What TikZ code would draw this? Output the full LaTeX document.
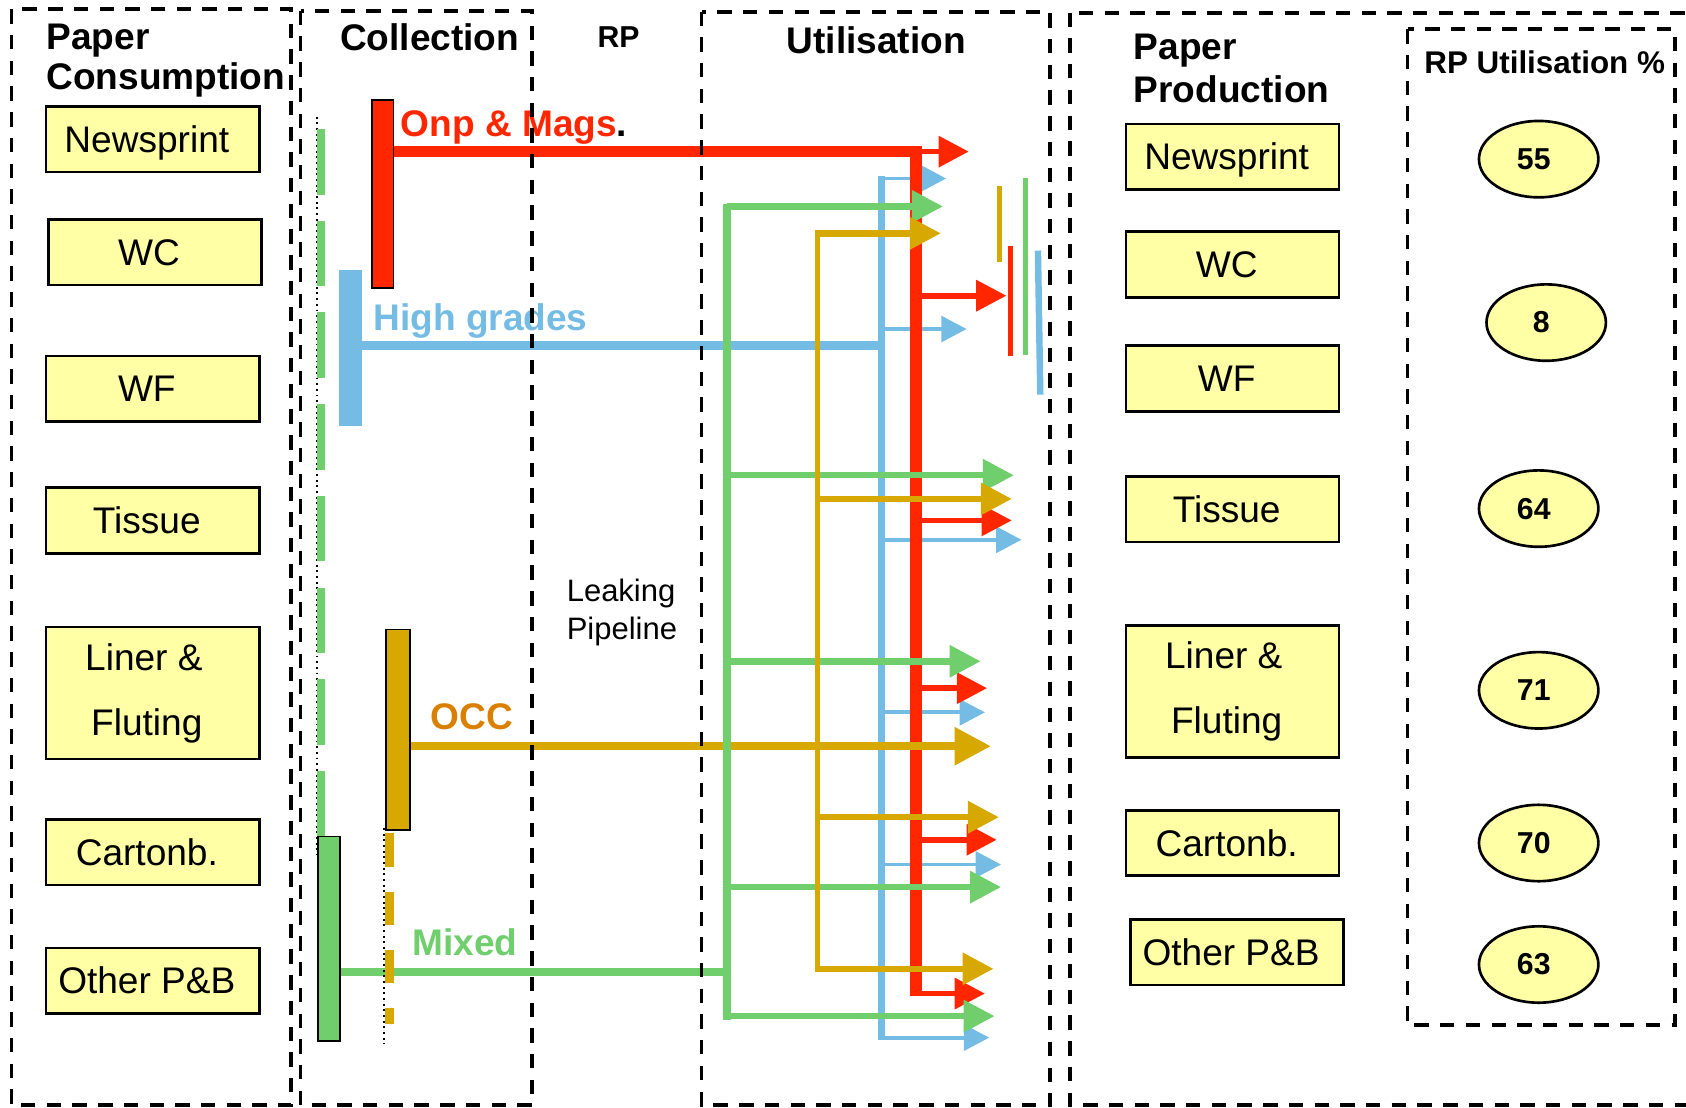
\documentclass[tikz,border=0pt]{standalone}
\usepackage{fontspec}
\setmainfont{Liberation Sans}
\usepackage{tikz}
\usetikzlibrary{arrows.meta, positioning, shapes.geometric}

\definecolor{onpred}{RGB}{255,38,0}
\definecolor{hgblue}{RGB}{116,188,228}
\definecolor{mixgreen}{RGB}{112,207,108}
\definecolor{occgold}{RGB}{214,168,0}
\definecolor{occtext}{RGB}{218,128,0}
\definecolor{boxyellow}{RGB}{255,255,166}

\begin{document}
\begin{tikzpicture}[x=0.01cm, y=-0.01cm,
	frame/.style={line width=1pt, dash pattern=on 3.8pt off 3pt},
	grade/.style={draw, line width=0.7pt, fill=boxyellow, minimum width=1.98cm, minimum height=0.61cm, inner sep=0pt, font=\fontsize{9.8}{11}\selectfont, text height=7pt, text depth=0pt, execute at end node={\hspace*{3.1pt}}},
	twoline/.style={text height={}, text depth={}, minimum height=1.23cm, align=center, font=\fontsize{9.8}{17.2}\selectfont},
	share/.style={ellipse, draw, line width=0.7pt, fill=boxyellow, minimum width=1.11cm, minimum height=0.71cm, inner sep=0pt, font=\fontsize{8}{9.6}\selectfont\bfseries, execute at end node={\hspace*{2.6pt}}},
	heading/.style={inner sep=0pt, anchor=base west, align=left, font=\fontsize{9.8}{10.4}\selectfont\bfseries},
	flowname/.style={inner sep=0pt, anchor=base west, font=\fontsize{9.8}{11}\selectfont\bfseries},
	bale/.style={inner sep=0pt, minimum width=0.2cm},
	leak/.style={line width=0.4pt, dash pattern=on 0.5pt off 1pt},
	onpflow/.style={onpred, line width=1.5pt, -{Triangle[length=8pt, width=8pt]}},
	hgflow/.style={hgblue, line width=1pt, -{Triangle[length=6.7pt, width=6.8pt]}},
	mixflow/.style={mixgreen, line width=1.7pt, -{Triangle[length=8.2pt, width=8.2pt]}},
	occflow/.style={occgold, line width=1.7pt, -{Triangle[length=8.2pt, width=8.2pt]}},
	stub/.style={line width=1.4pt}]
	\useasboundingbox (0,0) rectangle (1568,1030);

	% headings
	\node[heading] (pcon) at (42.5,83) {Paper\\Consumption};
	\node[heading] (coll) at (315.5,46.5) {Collection};
	\node[heading, font=\fontsize{8}{9.6}\selectfont\bfseries] (rp) at (555,44) {RP};
	\node[heading] (util) at (731,49.6) {Utilisation};
	\node[heading, font=\fontsize{9.8}{11.4}\selectfont\bfseries] (pprod) at (1053.7,95.5) {Paper\\Production};
	\node[heading, font=\fontsize{8.3}{10}\selectfont\bfseries] (rputil) at (1324,68.8) {RP Utilisation \%};
	\node[heading, font=\fontsize{8.2}{10.1}\selectfont] (leaking) at (526.4,595) {Leaking\\Pipeline};

	% paper consumption
	\node[grade] (cnews) at (142,129.5) {Newsprint};
	\node[grade] (cwc) at (144,234.5) {WC};
	\node[grade] (cwf) at (142,361.5) {WF};
	\node[grade] (ctissue) at (142,484) {Tissue};
	\node[grade, twoline] (cliner) at (142,644.5) {Liner \&\hspace*{1.55pt}\\Fluting};
	\node[grade] (ccarton) at (142,792.5) {Cartonb.};
	\node[grade] (cother) at (142,912) {Other P\&B};

	% paper production
	\node[grade] (pnews) at (1146.3,145.7) {Newsprint};
	\node[grade] (pwc) at (1146.3,246) {WC};
	\node[grade] (pwf) at (1146.3,352) {WF};
	\node[grade] (ptissue) at (1146.3,473.5) {Tissue};
	\node[grade, twoline] (pliner) at (1146.3,643) {Liner \&\hspace*{1.55pt}\\Fluting};
	\node[grade] (pcarton) at (1146.3,784) {Cartonb.};
	\node[grade] (pother) at (1150.4,885.6) {Other P\&B};

	% RP utilisation
	\node[share] (unews) at (1431,148) {55};
	\node[share] (uwc) at (1438,300) {8};
	\node[share] (utissue) at (1431,473) {64};
	\node[share] (uliner) at (1431,642) {71};
	\node[share] (ucarton) at (1431,784) {70};
	\node[share] (uother) at (1431,897) {63};

	% collection
	\draw[leak] (295,108.5) -- (295,795);
	\draw[mixgreen, line width=1.9pt, dash pattern=on 17.35pt off 6.9pt] (298.5,120) -- (298.5,778);
	\node[bale, fill=onpred, draw=black, line width=0.5pt, minimum height=1.75cm] (onpbar) at (356,180.5) {};
	\node[bale, fill=hgblue, minimum width=0.21cm, minimum height=1.45cm] (hgbar) at (325.7,323.5) {};
	\node[bale, fill=occgold, draw=black, line width=0.5pt, minimum width=0.22cm, minimum height=1.86cm] (occbar) at (370,678.5) {};
	\node[bale, fill=mixgreen, draw=black, line width=0.5pt, minimum height=1.9cm] (mixbar) at (306,873) {};

	\node[flowname, text=onpred] (onpname) at (372,127) {Onp \& Mags\textcolor{black}{.}};
	\node[flowname, text=hgblue] (hgname) at (346.6,307) {High grades};
	\node[flowname, text=occtext] (occname) at (400,678) {OCC};
	\node[flowname, text=mixgreen] (mixname) at (383,889) {Mixed};

	% high grades
	\coordinate (hgtop) at (820,164);
	\coordinate (hgbot) at (820,967);
	\coordinate (hgjoin) at (820,321.5);
	\draw[hgblue, line width=2.3pt] (hgbar.east |- hgjoin) -- (hgjoin);
	\draw[hgblue, line width=2pt] (hgtop) -- (hgbot);
	\foreach \y/\x [count=\i] in {166/880, 306/899, 502/950, 662.5/916, 804/931, 965/920} {
		\coordinate (hgtip\i) at (\x,\y);
		\draw[hgflow] (hgtop |- hgtip\i) -- (hgtip\i);
	}

	% onp & mags
	\coordinate (onptop) at (852,141);
	\coordinate (onpbot) at (852,926);
	\draw[onpred, line width=3pt] (onpbar.east |- onptop) -- (onptop) -- (onpbot);
	\foreach \y/\x [count=\i] in {141/901, 275/936, 484/941, 640/918, 781/927, 924/916} {
		\coordinate (onptip\i) at (\x,\y);
		\draw[onpflow] (onptop |- onptip\i) -- (onptip\i);
	}

	% occ
	\coordinate (occtip) at (921.6,694);
	\draw[occgold, line width=2.1pt, -{Triangle[length=9.6pt, width=9.6pt]}] (occbar.east |- occtip) -- (occtip);

	% mixed
	\coordinate (mixtop) at (676,189.5);
	\coordinate (mixbot) at (676,949);
	\coordinate (mixjoin) at (676,904);
	\draw[mixgreen, line width=2.3pt] (mixbar.east |- mixjoin) -- (mixjoin);
	\draw[mixgreen, line width=2pt] (mixtop) -- (mixbot);
	\foreach \y/\x [count=\i] in {192/877, 442/943, 615/912, 825/931, 945/925} {
		\coordinate (mixtip\i) at (\x,\y);
		\draw[mixflow] (mixtop |- mixtip\i) -- (mixtip\i);
	}

	% occ trunk
	\coordinate (occtop) at (760,214);
	\coordinate (occbot) at (760,904);
	\draw[occgold, line width=1.4pt] (occtop) -- (occbot);
	\foreach \y/\x [count=\i] in {217/875, 464/941, 760/929, 901/924} {
		\coordinate (occtip\i) at (\x,\y);
		\draw[occflow] (occtop |- occtip\i) -- (occtip\i);
	}

	\draw[leak] (357,770) -- (357,971);
	\draw[occgold, line width=2.4pt, dash pattern=on 8.8pt off 6.6pt] (362,775) -- (362,952);

	% collectors
	\draw[occgold, stub] (929.3,173) -- (929.3,244);
	\draw[onpred, stub] (940,229) -- (940,331);
	\draw[mixgreen, stub] (953.7,166) -- (953.7,330);
	\draw[hgblue, line width=1.7pt] (965.3,233) -- (967.5,367);

	% frames
	\draw[frame] (10.6,8.7) rectangle (270.5,1028);
	\draw[frame] (279.5,10) rectangle (494.5,1028);
	\draw[frame] (652.5,10.8) rectangle (976.5,1028);
	\draw[frame] (995.3,11.8) rectangle (1580,1028);
	\draw[frame] (1309,27.3) rectangle (1557.5,953.5);
\end{tikzpicture}
\end{document}
